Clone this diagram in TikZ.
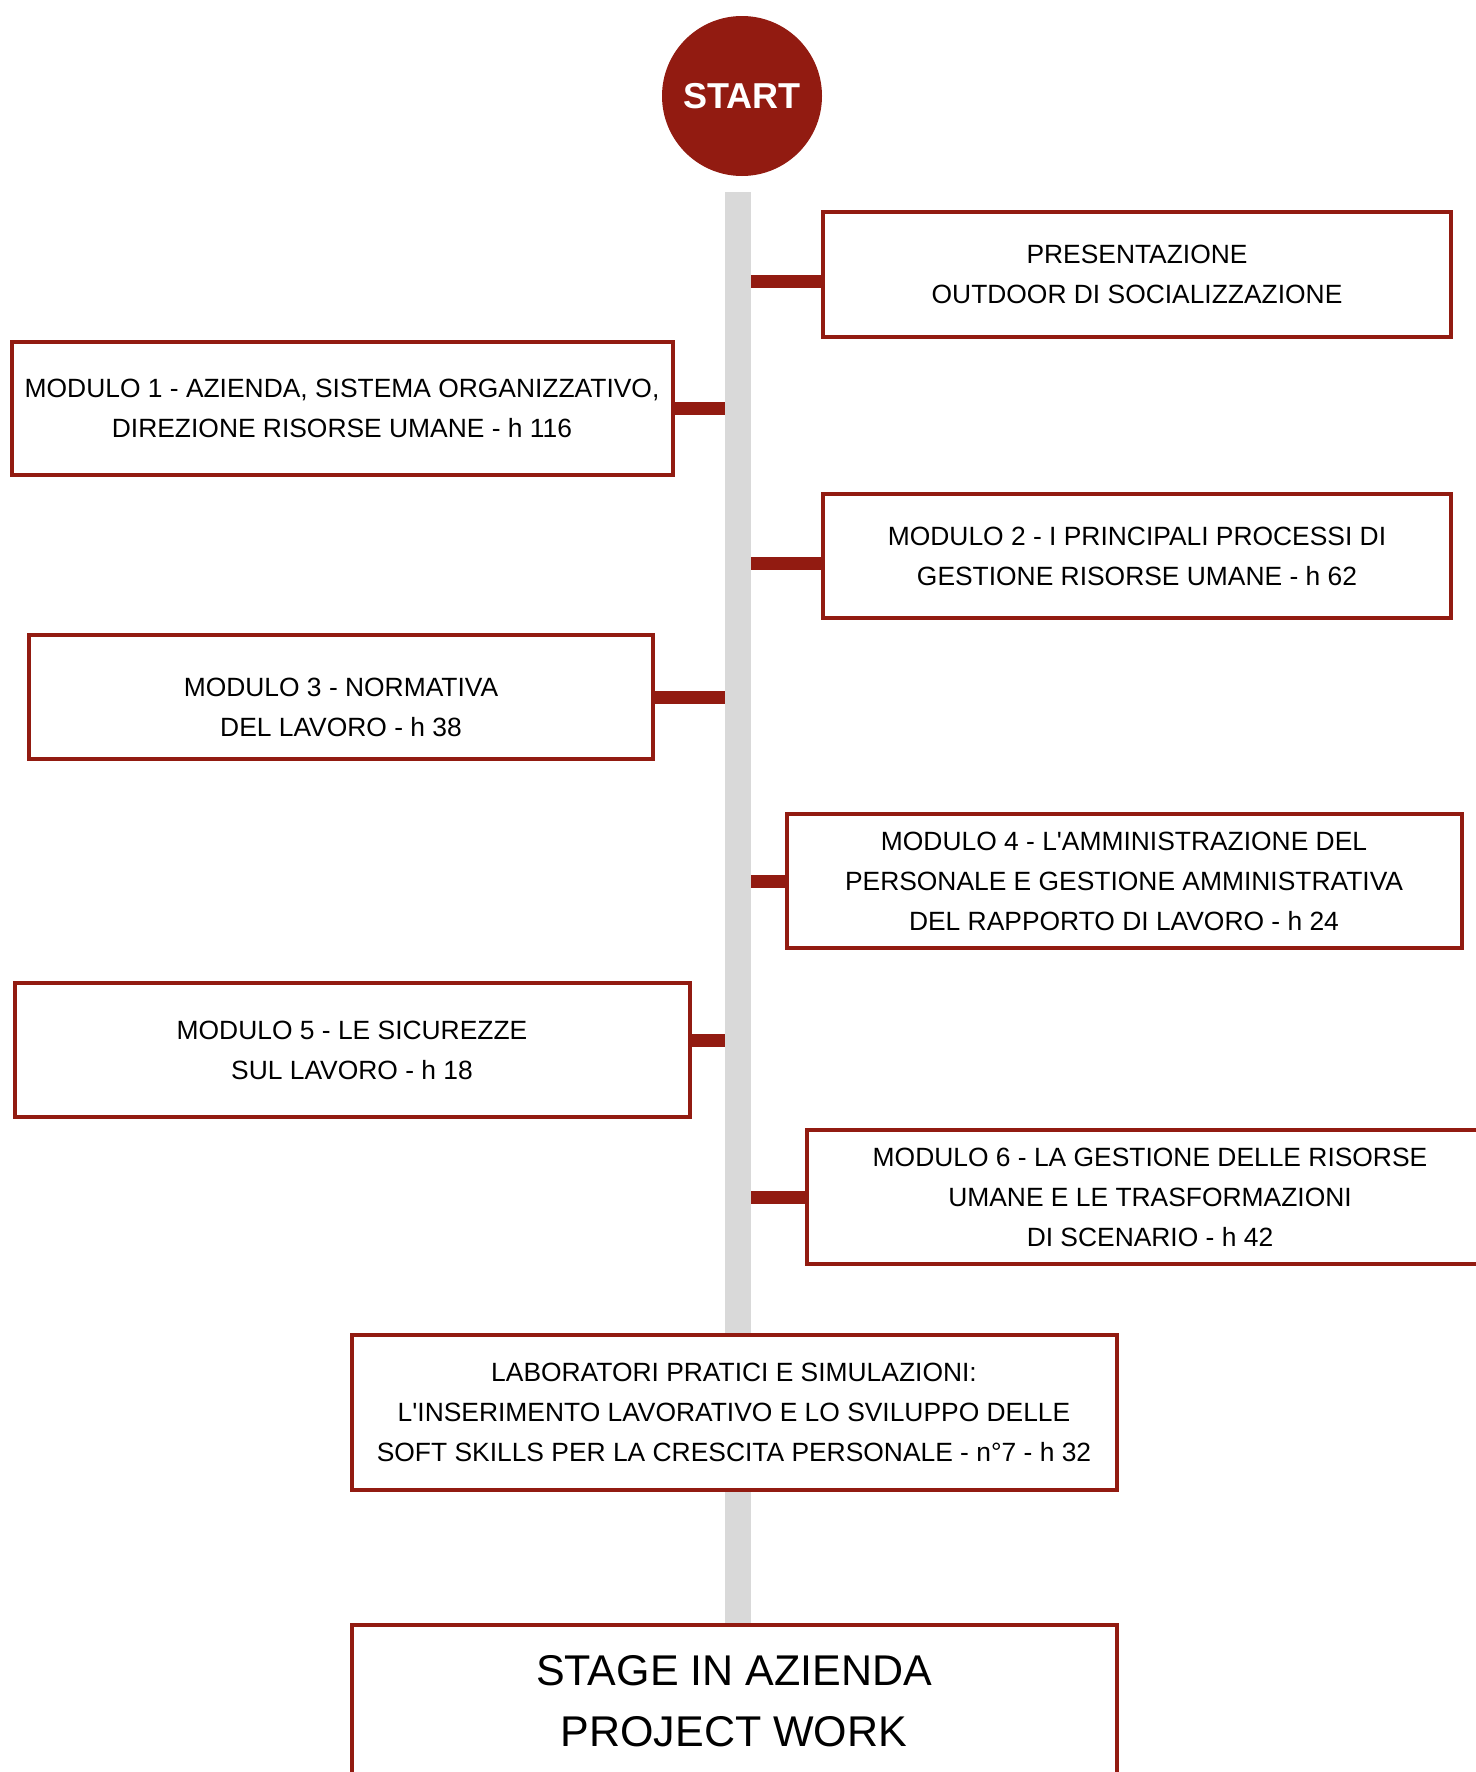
\documentclass[tikz,border=0pt]{standalone}
\usepackage{fontspec}
\setmainfont{Liberation Sans}
\usepackage{tikz}
\definecolor{DarkRed}{RGB}{146,27,17}
\definecolor{BarGray}{RGB}{217,217,217}

\tikzset{
  modbox/.style={draw=DarkRed, line width=2pt, fill=white, align=center,
    font=\fontsize{13.2}{20}\selectfont, inner sep=0pt},
  modtext/.style={align=center, font=\fontsize{13.2}{20}\selectfont, inner sep=0pt},
  link/.style={draw=DarkRed, line width=6.5pt},
  bar/.style={draw=BarGray, line width=13pt}
}

\begin{document}
\begin{tikzpicture}[x=0.5pt, y=-0.5pt]
		\useasboundingbox (0,0) rectangle (1476,1772);
		\node[circle, fill=DarkRed, minimum size=80pt, inner sep=0pt, text=white,
		  font=\fontsize{18}{20}\selectfont\bfseries] (start) at (742,96) {START};
		\coordinate (bartop) at (738,192);
		\coordinate (barbot) at (738,1625);
		\node[modbox, minimum width=314pt, minimum height=62.5pt] (pres) at (1137,274)
		  {PRESENTAZIONE\\OUTDOOR DI SOCIALIZZAZIONE};
		\node[modbox, minimum width=330.5pt, minimum height=66.5pt] (mod1) at (342,408)
		  {MODULO 1 - AZIENDA, SISTEMA ORGANIZZATIVO,\\DIREZIONE RISORSE UMANE - h 116};
		\node[modbox, minimum width=314pt, minimum height=62pt] (mod2) at (1137,556)
		  {MODULO 2 - I PRINCIPALI PROCESSI DI\\GESTIONE RISORSE UMANE - h 62};
		\node[modbox, minimum width=312pt, minimum height=62pt] (mod3) at (341,697) {};
		\node[modtext] (mod3text) at ([yshift=-5pt]mod3.center)
		  {MODULO 3 - NORMATIVA\\DEL LAVORO - h 38};
		\node[modbox, minimum width=337.5pt, minimum height=67pt] (mod4) at (1124,881)
		  {MODULO 4 - L\textquotesingle AMMINISTRAZIONE DEL\\PERSONALE E GESTIONE AMMINISTRATIVA\\DEL RAPPORTO DI LAVORO - h 24};
		\node[modbox, minimum width=337.5pt, minimum height=67pt] (mod5) at (352,1050)
		  {MODULO 5 - LE SICUREZZE\\SUL LAVORO - h 18};
		\node[modbox, minimum width=343pt, minimum height=67pt] (mod6) at (1150,1197)
		  {MODULO 6 - LA GESTIONE DELLE RISORSE\\UMANE E LE TRASFORMAZIONI\\DI SCENARIO - h 42};
		% links to the timeline
		\draw[link] ([yshift=-3.5pt]pres.west) -- ([yshift=-3.5pt]pres.west -| bartop);
		\draw[link] (mod1.east) -- (mod1.east -| bartop);
		\draw[link] ([yshift=-3.5pt]mod2.west) -- ([yshift=-3.5pt]mod2.west -| bartop);
		\draw[link] (mod3.east) -- (mod3.east -| bartop);
		\draw[link] (mod4.west) -- (mod4.west -| bartop);
		\draw[link] ([yshift=5pt]mod5.east) -- ([yshift=5pt]mod5.east -| bartop);
		\draw[link] (mod6.west) -- (mod6.west -| bartop);
		\draw[bar] (bartop) -- (barbot);
		\node[modbox, minimum width=382.5pt, minimum height=77.5pt] (lab) at (734,1412)
		  {LABORATORI PRATICI E SIMULAZIONI:\\L\textquotesingle INSERIMENTO LAVORATIVO E LO SVILUPPO DELLE\\SOFT SKILLS PER LA CRESCITA PERSONALE - n°7 - h 32};
		\node[modbox, minimum width=382.5pt, minimum height=76pt,
		  font=\fontsize{21.5}{30.5}\selectfont] (stage) at (734,1701)
		  {STAGE IN AZIENDA\\PROJECT WORK};
	\end{tikzpicture}
\end{document}
